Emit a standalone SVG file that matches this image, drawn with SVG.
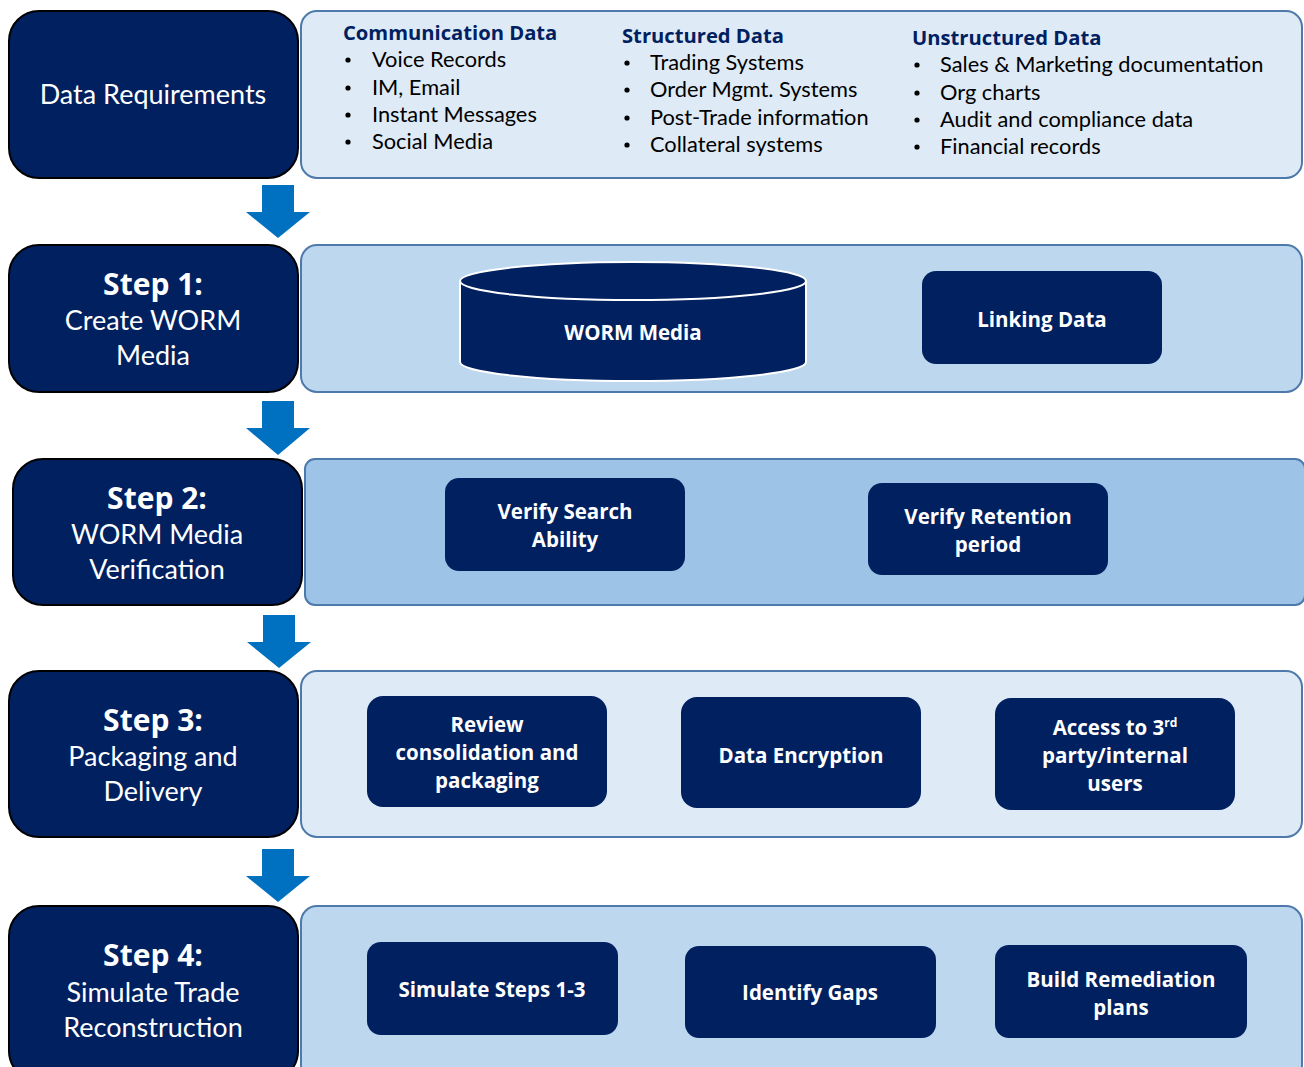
<svg xmlns="http://www.w3.org/2000/svg" width="1304" height="1067" viewBox="0 0 1304 1067">
<style>
.step{fill:#002060;stroke:#000;stroke-width:2}
.panel{stroke:#4d79ab;stroke-width:2}
.box{fill:#002060}
.t{font-family:"Lato","Open Sans",sans-serif;fill:#fff;text-anchor:middle}
.st{font-size:27px}
.sb{font-family:"Open Sans",sans-serif;font-size:30px;font-weight:bold}
.bx{font-family:"Open Sans",sans-serif;font-size:20.5px;font-weight:bold}
.h{font-family:"Open Sans",sans-serif;font-size:20.2px;font-weight:bold;fill:#002060}
.li{font-family:"Lato","Open Sans",sans-serif;font-size:21.8px;fill:#000}
.bu{fill:#000}
.arr{fill:#0070c0}
</style>
<rect width="1304" height="1067" fill="#fff"/>
<g id="connectors">
<polygon class="arr" points="262,185 294,185 294,212 310,212 278,238 246,212 262,212"/>
<polygon class="arr" points="262,401 294,401 294,428 310,428 278,455 246,428 262,428"/>
<polygon class="arr" points="263,615 295,615 295,642 311,642 279,668 247,642 263,642"/>
<polygon class="arr" points="262,849 294,849 294,876 310,876 278,902 246,876 262,876"/>
</g>
<g id="row0">
<rect class="panel" x="301" y="11" width="1001" height="167" rx="16" fill="#deeaf6"/>
<rect class="step" x="9" y="11" width="289" height="167" rx="30"/>
<text class="t st" x="153" y="104" font-size="27.6">Data Requirements</text>
<text class="h" x="343" y="40">Communication Data</text>
<g class="bu">
<circle cx="348" cy="60" r="2.6"/><circle cx="348" cy="88" r="2.6"/><circle cx="348" cy="115" r="2.6"/><circle cx="348" cy="142" r="2.6"/>
<circle cx="627" cy="63" r="2.6"/><circle cx="627" cy="90" r="2.6"/><circle cx="627" cy="118" r="2.6"/><circle cx="627" cy="145" r="2.6"/>
<circle cx="917" cy="65" r="2.6"/><circle cx="917" cy="93" r="2.6"/><circle cx="917" cy="120" r="2.6"/><circle cx="917" cy="147" r="2.6"/>
</g>
<g class="li">
<text x="372" y="67">Voice Records</text>
<text x="372" y="95">IM, Email</text>
<text x="372" y="122">Instant Messages</text>
<text x="372" y="149">Social Media</text>
</g>
<text class="h" x="622" y="43">Structured Data</text>
<g class="li">
<text x="650" y="70">Trading Systems</text>
<text x="650" y="97">Order Mgmt. Systems</text>
<text x="650" y="125">Post-Trade information</text>
<text x="650" y="152">Collateral systems</text>
</g>
<text class="h" x="912" y="45">Unstructured Data</text>
<g class="li">
<text x="940" y="72">Sales &amp; Marketing documentation</text>
<text x="940" y="100">Org charts</text>
<text x="940" y="127">Audit and compliance data</text>
<text x="940" y="154">Financial records</text>
</g>
</g>
<g id="row1">
<rect class="panel" x="301" y="245" width="1001" height="147" rx="16" fill="#bdd7ee"/>
<rect class="step" x="9" y="245" width="289" height="147" rx="30"/>
<text class="t sb" x="153" y="295">Step 1:</text>
<text class="t st" x="153" y="330">Create WORM</text>
<text class="t st" x="153" y="365">Media</text>
</g>
<g id="worm">
<path d="M460,281 L460,362 A173,19 0 0 0 806,362 L806,281" fill="#002060" stroke="#fff" stroke-width="2"/>
<ellipse cx="633" cy="281" rx="173" ry="19" fill="#002060" stroke="#fff" stroke-width="2"/>
<text class="t bx" x="633" y="340" font-size="22">WORM Media</text>
</g>
<g id="linking">
<rect class="box" x="922" y="271" width="240" height="93" rx="14"/>
<text class="t bx" x="1042" y="327" font-size="22">Linking Data</text>
</g>
<g id="row2">
<rect class="panel" x="305" y="459" width="1000" height="146" rx="10" fill="#9dc3e6"/>
<rect class="step" x="13" y="459" width="289" height="146" rx="30"/>
<text class="t sb" x="157" y="509">Step 2:</text>
<text class="t st" x="157" y="544">WORM Media</text>
<text class="t st" x="157" y="579">Verification</text>
</g>
<g id="verify-search">
<rect class="box" x="445" y="478" width="240" height="93" rx="14"/>
<text class="t bx" x="565" y="519">Verify Search</text>
<text class="t bx" x="565" y="547">Ability</text>
</g>
<g id="verify-retention">
<rect class="box" x="868" y="483" width="240" height="92" rx="14"/>
<text class="t bx" x="988" y="524">Verify Retention</text>
<text class="t bx" x="988" y="552">period</text>
</g>
<g id="row3">
<rect class="panel" x="301" y="671" width="1001" height="166" rx="16" fill="#deebf7"/>
<rect class="step" x="9" y="671" width="289" height="166" rx="30"/>
<text class="t sb" x="153" y="731">Step 3:</text>
<text class="t st" x="153" y="766">Packaging and</text>
<text class="t st" x="153" y="801">Delivery</text>
</g>
<g id="review">
<rect class="box" x="367" y="696" width="240" height="111" rx="16"/>
<text class="t bx" x="487" y="732">Review</text>
<text class="t bx" x="487" y="760">consolidation and</text>
<text class="t bx" x="487" y="788">packaging</text>
</g>
<g id="encryption">
<rect class="box" x="681" y="697" width="240" height="111" rx="16"/>
<text class="t bx" x="801" y="763">Data Encryption</text>
</g>
<g id="access">
<rect class="box" x="995" y="698" width="240" height="112" rx="16"/>
<text class="t bx" x="1115" y="735">Access to 3<tspan font-size="12" dy="-8">rd</tspan></text>
<text class="t bx" x="1115" y="763">party/internal</text>
<text class="t bx" x="1115" y="791">users</text>
</g>
<g id="row4">
<rect class="panel" x="301" y="906" width="1001" height="175" rx="16" fill="#bdd7ee"/>
<rect class="step" x="9" y="906" width="289" height="175" rx="30"/>
<text class="t sb" x="153" y="966">Step 4:</text>
<text class="t st" x="153" y="1002">Simulate Trade</text>
<text class="t st" x="153" y="1037">Reconstruction</text>
</g>
<g id="simulate">
<rect class="box" x="367" y="942" width="251" height="93" rx="14"/>
<text class="t bx" x="492" y="997">Simulate Steps 1-3</text>
</g>
<g id="gaps">
<rect class="box" x="685" y="946" width="251" height="92" rx="14"/>
<text class="t bx" x="810" y="1000">Identify Gaps</text>
</g>
<g id="remediation">
<rect class="box" x="995" y="945" width="252" height="93" rx="14"/>
<text class="t bx" x="1121" y="987">Build Remediation</text>
<text class="t bx" x="1121" y="1015">plans</text>
</g>
</svg>
